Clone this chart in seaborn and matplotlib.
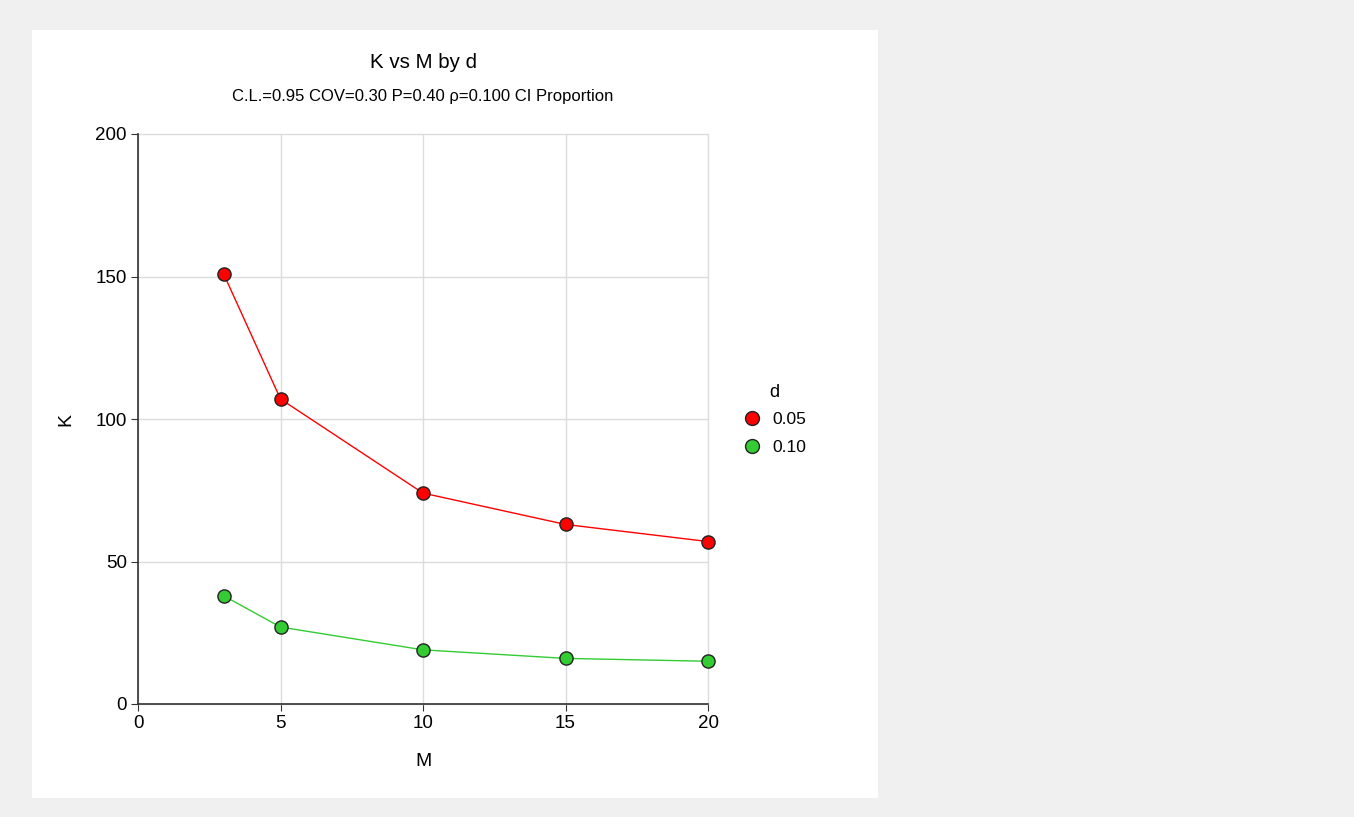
import pandas as pd
import matplotlib.pyplot as plt
import seaborn as sns
from matplotlib.patches import Rectangle

# Data
m_values = [3, 5, 10, 15, 20]
k_d005 = [151, 107, 74, 63, 57]
k_d010 = [38, 27, 19, 16, 15]
d_labels = ['0.05', '0.10']

df = pd.DataFrame({
    'M': m_values * 2,
    'K': k_d005 + k_d010,
    'd': [d_labels[0]] * len(m_values) + [d_labels[1]] * len(m_values),
})

sns.set_style('white')
plt.rcParams['font.family'] = ['Liberation Sans', 'DejaVu Sans']
plt.rcParams['text.color'] = 'black'
plt.rcParams['axes.labelcolor'] = 'black'
plt.rcParams['xtick.color'] = 'black'
plt.rcParams['ytick.color'] = 'black'

fig = plt.figure(figsize=(13.54, 8.17), dpi=100)
fig.patch.set_facecolor('#f0f0f0')
fig.patches.append(Rectangle((32 / 1354, 1 - 798 / 817), 846 / 1354, 768 / 817,
                             transform=fig.transFigure, facecolor='white',
                             edgecolor='none', zorder=-5))

ax = fig.add_axes([138 / 1354, 1 - 704 / 817, 570 / 1354, 570 / 817])
ax.set_facecolor('white')

palette = {'0.05': '#ff0000', '0.10': '#33cc33'}
sns.lineplot(data=df, x='M', y='K', hue='d', palette=palette, marker='o',
             markersize=9.5, markeredgecolor='#222222', markeredgewidth=1,
             linewidth=1, ax=ax, legend=False, clip_on=False, zorder=3)

ax.set_xlim(0, 20)
ax.set_ylim(0, 200)
ax.set_xticks([0, 5, 10, 15, 20])
ax.set_yticks([0, 50, 100, 150, 200])
ax.grid(True, color='#dcdcdc', linewidth=1)
ax.set_axisbelow(True)
for gl in ax.get_xgridlines() + ax.get_ygridlines():
    gl.set_clip_on(False)
for s in ['top', 'right']:
    ax.spines[s].set_visible(False)
for s in ['left', 'bottom']:
    ax.spines[s].set_color('#333333')
    ax.spines[s].set_linewidth(1.2)
ax.tick_params(axis='both', labelsize=13.5, length=5, direction='out',
               color='#333333', bottom=True, left=True, pad=3)
ax.set_xlabel('M', fontsize=14, labelpad=15)
ax.set_ylabel('K', fontsize=14, labelpad=15)

fig.text(423 / 1354, 1 - 63 / 817, 'K vs M by d', ha='center', va='center', fontsize=14.8)
fig.text(423 / 1354, 1 - 96 / 817, 'C.L.=0.95 COV=0.30 P=0.40 ρ=0.100 CI Proportion',
         ha='center', va='center', fontsize=12)

# Legend
handles = [plt.Line2D([], [], marker='o', linestyle='none', markersize=10,
                      markerfacecolor=palette[d], markeredgecolor='#222222')
           for d in d_labels]
leg = fig.legend(handles, d_labels, title='d', loc='upper left',
                 bbox_to_anchor=(727 / 1354, 1 - 368 / 817), frameon=False,
                 fontsize=12.5, title_fontsize=13, handletextpad=0.6,
                 labelspacing=0.75, handlelength=1.1)
leg._legend_box.sep = 8

fig.savefig('out.png', dpi=100, facecolor=fig.get_facecolor())
